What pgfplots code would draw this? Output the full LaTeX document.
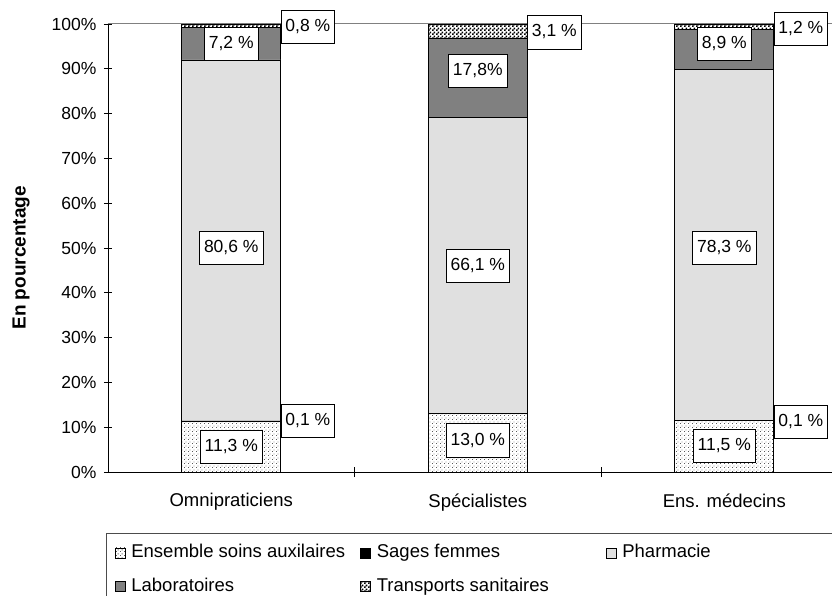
\documentclass[border=0pt]{standalone}
\usepackage{pgfplots}
\pgfplotsset{compat=1.18}
\usepackage{fontspec}
\setmainfont{Liberation Sans}
\usetikzlibrary{patterns}
\definecolor{pharm}{RGB}{224,224,224}
\definecolor{labo}{RGB}{128,128,128}
\pgfdeclarepatternformonly{finedots}{\pgfqpoint{0pt}{0pt}}{\pgfqpoint{4pt}{4pt}}{\pgfqpoint{4pt}{4pt}}{%
  \pgfpathrectangle{\pgfqpoint{0pt}{0pt}}{\pgfqpoint{1pt}{1pt}}%
  \pgfpathrectangle{\pgfqpoint{2pt}{2pt}}{\pgfqpoint{1pt}{1pt}}%
  \pgfusepath{fill}}
\pgfdeclarepatternformonly{finechecker}{\pgfqpoint{0pt}{0pt}}{\pgfqpoint{4pt}{4pt}}{\pgfqpoint{4pt}{4pt}}{%
  \pgfpathrectangle{\pgfqpoint{0pt}{0pt}}{\pgfqpoint{2pt}{2pt}}%
  \pgfpathrectangle{\pgfqpoint{2pt}{2pt}}{\pgfqpoint{2pt}{2pt}}%
  \pgfusepath{fill}}
\newcommand{\fs}{\fontsize{17.5}{20}\selectfont}
\newcommand{\fl}{\fontsize{18.5}{21}\selectfont}
\tikzset{lbl/.style={fill=white, draw=black, line width=0.7pt, inner xsep=4.5pt, inner ysep=9pt, text height=12.6pt, text depth=3pt, font=\fs}}
\begin{document}
\begin{tikzpicture}
\useasboundingbox (-108pt,-123pt) rectangle (724pt,472pt);
\begin{axis}[
  at={(0,0)}, anchor=south west,
  scale only axis, width=724pt, height=448pt,
  ybar stacked, bar width=99pt,
  xmin=-0.5, xmax=2.437, ymin=0, ymax=100,
  axis x line*=bottom, axis y line*=left,
  axis line style={black, line width=0.8pt},
  xtick={0,1,2}, xticklabels={Omnipraticiens,Spécialistes,Ens. médecins},
  major x tick style={draw=none},
  minor xtick={0.5,1.5},
  ytick={0,10,...,100},
  yticklabel={\pgfmathprintnumber{\tick}\%},
  /pgf/number format/assume math mode=true,
  tick align=center, major tick length=8pt, minor tick length=10pt,
  tick style={black, line width=0.8pt},
  yticklabel style={font=\fs, xshift=-4pt},
  xticklabel style={font=\fl, yshift=-14pt},
  extra y ticks={100}, extra y tick labels={},
  extra y tick style={grid=major, major grid style={gray, line width=1pt}},
  ylabel={\bfseries En pourcentage},
  ylabel style={font=\fontsize{19}{22}\selectfont, at={(axis description cs:-0.12,0.478)}, anchor=center},
  clip=false,
  legend columns=3,
  legend cell align=left,
  legend image code/.code={\draw[#1, draw=black, line width=0.5pt] (0pt,-5pt) rectangle (10pt,5pt);},
  legend style={at={(axis description cs:-0.0028,-0.136)}, anchor=north west,
    draw=black!70, line width=0.8pt, font=\fl,
    inner xsep=8.5pt, inner ysep=11pt, row sep=16.5pt,
    nodes={inner sep=0pt, text height=13.3pt, text depth=3.9pt},
    /tikz/every odd column/.append style={column sep=6pt}},
]
\addplot[draw=black, line width=0.6pt, pattern=finedots, pattern color=black!65] coordinates {(0,11.3) (1,13.0) (2,11.5)};
\addlegendentry{\makebox[229pt][l]{Ensemble soins auxilaires}}
\addplot[draw=black, line width=0.6pt, fill=black] coordinates {(0,0.1) (1,0.0) (2,0.1)};
\addlegendentry{\makebox[229pt][l]{Sages femmes}}
\addplot[draw=black, line width=0.6pt, fill=pharm] coordinates {(0,80.6) (1,66.1) (2,78.3)};
\addlegendentry{\makebox[229pt][l]{Pharmacie}}
\addplot[draw=black, line width=0.6pt, fill=labo] coordinates {(0,7.2) (1,17.8) (2,8.9)};
\addlegendentry{\makebox[229pt][l]{Laboratoires}}
\addplot[draw=black, line width=0.6pt, pattern=finechecker, pattern color=black] coordinates {(0,0.8) (1,3.1) (2,1.2)};
\addlegendentry{\makebox[229pt][l]{Transports sanitaires}}

\coordinate (a1) at (axis cs:0,5.65);
\coordinate (a2) at (axis cs:0.2,11.4);
\coordinate (a3) at (axis cs:0,50.0);
\coordinate (a4) at (axis cs:0,95.6);
\coordinate (a5) at (axis cs:0.2,99.4);
\coordinate (b1) at (axis cs:1,7.0);
\coordinate (b3) at (axis cs:1,46.0);
\coordinate (b4) at (axis cs:1,89.5);
\coordinate (b5) at (axis cs:1.2,98.2);
\coordinate (c1) at (axis cs:2,5.8);
\coordinate (c2) at (axis cs:2.2,11.2);
\coordinate (c3) at (axis cs:2,50.0);
\coordinate (c4) at (axis cs:2,95.6);
\coordinate (c5) at (axis cs:2.2,98.9);
\end{axis}
\node[lbl] at (a1) {11,3 \%};
\node[lbl, anchor=west] at (a2) {0,1 \%};
\node[lbl] at (a3) {80,6 \%};
\node[lbl] at (a4) {7,2 \%};
\node[lbl, anchor=west] at (a5) {0,8 \%};
\node[lbl] at (b1) {13,0 \%};
\node[lbl] at (b3) {66,1 \%};
\node[lbl] at (b4) {17,8\%};
\node[lbl, anchor=west] at (b5) {3,1 \%};
\node[lbl] at (c1) {11,5 \%};
\node[lbl, anchor=west] at (c2) {0,1 \%};
\node[lbl] at (c3) {78,3 \%};
\node[lbl] at (c4) {8,9 \%};
\node[lbl, anchor=west] at (c5) {1,2 \%};
\end{tikzpicture}
\end{document}
